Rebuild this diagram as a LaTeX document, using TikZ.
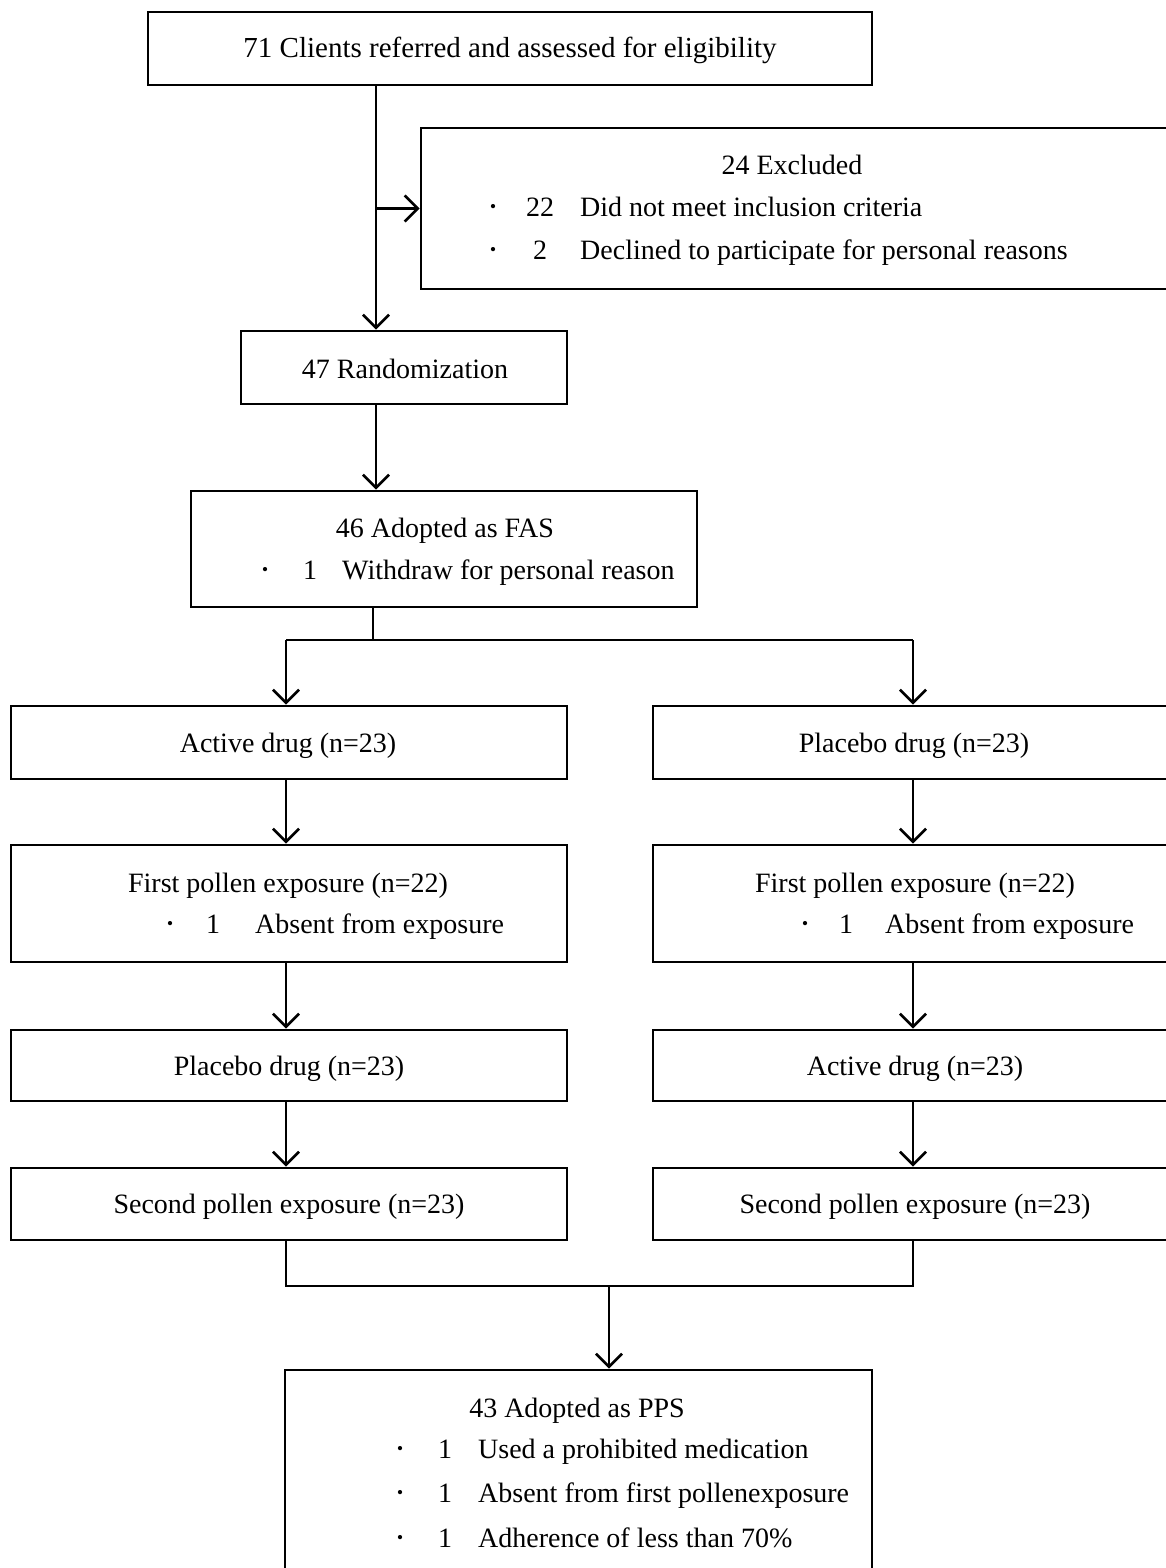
\documentclass[tikz,border=0pt]{standalone}
\usepackage{fontspec}
\setmainfont{Liberation Serif}
\usetikzlibrary{arrows.meta}
\tikzset{
  box/.style={draw=black, line width=2.8pt, inner sep=0pt, fill=white},
  txt/.style={inner sep=0pt, anchor=base, font=\fontsize{28}{32}\selectfont},
  txtw/.style={inner sep=0pt, anchor=base west, font=\fontsize{28}{32}\selectfont},
  dot/.style={inner sep=0pt, anchor=base, font=\fontsize{36}{40}\selectfont, yshift=-2pt},
  conn/.style={line width=2.7pt, draw=black},
  arr/.style={conn, -{Straight Barb[length=13pt,width=26pt,line width=2.7pt]}},
}
\begin{document}
\begin{tikzpicture}[x=1pt,y=-1pt]
\useasboundingbox (0,0) rectangle (1166,1568);
\clip (0,0) rectangle (1166,1568);
\fill[white] (0,0) rectangle (1166,1568);

% guide coordinates
\coordinate (spine) at (376,0);
\coordinate (split) at (373,640);
\coordinate (colL) at (286,0);
\coordinate (colR) at (913,0);
\coordinate (merge) at (609,1286);

% boxes
\node[box, minimum width=724pt, minimum height=73pt] (top) at (510,48.5) {};
\node[box, minimum width=751pt, minimum height=161pt] (excl) at (796.5,208.5) {};
\node[box, minimum width=326pt, minimum height=73pt] (rand) at (404,367.5) {};
\node[box, minimum width=506pt, minimum height=116pt] (fas) at (444,549) {};

\node[box, minimum width=556pt, minimum height=73pt] (actL) at (289,742.5) {};
\node[box, minimum width=556pt, minimum height=117pt] (firstL) at (289,903.5) {};
\node[box, minimum width=556pt, minimum height=71pt] (placL) at (289,1065.5) {};
\node[box, minimum width=556pt, minimum height=72pt] (secL) at (289,1204) {};

\node[box, minimum width=519pt, minimum height=73pt] (placR) at (912.5,742.5) {};
\node[box, minimum width=519pt, minimum height=117pt] (firstR) at (912.5,903.5) {};
\node[box, minimum width=519pt, minimum height=71pt] (actR) at (912.5,1065.5) {};
\node[box, minimum width=519pt, minimum height=72pt] (secR) at (912.5,1204) {};

\node[box, minimum width=587pt, minimum height=210pt] (pps) at (578.5,1475) {};

% texts
\node[txt, font=\fontsize{29}{32}\selectfont] (t1) at (510,58) {71 Clients referred and assessed for eligibility};

\node[txt] (t2) at (792,174) {24 Excluded};
\node[dot] (t2b1) at (493,216) {·};
\node[txt] (t2n1) at (540,216) {22};
\node[txtw] (t2l1) at (580,216) {Did not meet inclusion criteria};
\node[dot] (t2b2) at (493,259) {·};
\node[txt] (t2n2) at (540,259) {2};
\node[txtw] (t2l2) at (580,259) {Declined to participate for personal reasons};

\node[txt] (t3) at (405,378) {47 Randomization};

\node[txt] (t4) at (445,537) {46 Adopted as FAS};
\node[dot] (t4b) at (265,579) {·};
\node[txt] (t4n) at (310,579) {1};
\node[txtw] (t4l) at (342,579) {Withdraw for personal reason};

\node[txt] (t5) at (288,752) {Active drug (n=23)};
\node[txt] (t6) at (288,892) {First pollen exposure (n=22)};
\node[dot] (t6b) at (170,933) {·};
\node[txt] (t6n) at (213,933) {1};
\node[txtw] (t6l) at (255,933) {Absent from exposure};
\node[txt] (t7) at (289,1075) {Placebo drug (n=23)};
\node[txt] (t8) at (289,1213) {Second pollen exposure (n=23)};

\node[txt] (t9) at (914,752) {Placebo drug (n=23)};
\node[txt] (t10) at (915,892) {First pollen exposure (n=22)};
\node[dot] (t10b) at (805,933) {·};
\node[txt] (t10n) at (846,933) {1};
\node[txtw] (t10l) at (885,933) {Absent from exposure};
\node[txt] (t11) at (915,1075) {Active drug (n=23)};
\node[txt] (t12) at (915,1213) {Second pollen exposure (n=23)};

\node[txt] (t13) at (577,1417) {43 Adopted as PPS};
\node[dot] (t13b1) at (400,1458) {·};
\node[txt] (t13n1) at (445,1458) {1};
\node[txtw] (t13l1) at (478,1458) {Used a prohibited medication};
\node[dot] (t13b2) at (400,1502) {·};
\node[txt] (t13n2) at (445,1502) {1};
\node[txtw] (t13l2) at (478,1502) {Absent from first pollenexposure};
\node[dot] (t13b3) at (400,1547) {·};
\node[txt] (t13n3) at (445,1547) {1};
\node[txtw] (t13l3) at (478,1547) {Adherence of less than 70\%};

% connectors
\draw[arr] (top.south -| spine) -- (rand.north -| spine);
\draw[arr] (spine |- excl.west) -- (excl.west);
\draw[arr] (rand.south -| spine) -- (fas.north -| spine);
\draw[conn] (fas.south -| split) -- (split);
\draw[conn] (split -| colL) -- (split -| colR);
\draw[arr] (split -| colL) -- (actL.north -| colL);
\draw[arr] (split -| colR) -- (placR.north -| colR);

\draw[arr] (actL.south -| colL) -- (firstL.north -| colL);
\draw[arr] (firstL.south -| colL) -- (placL.north -| colL);
\draw[arr] (placL.south -| colL) -- (secL.north -| colL);

\draw[arr] (placR.south -| colR) -- (firstR.north -| colR);
\draw[arr] (firstR.south -| colR) -- (actR.north -| colR);
\draw[arr] (actR.south -| colR) -- (secR.north -| colR);

\draw[conn] (secL.south -| colL) -- (merge -| colL) -- (merge -| colR) -- (secR.south -| colR);
\draw[arr] (merge) -- (pps.north -| merge);
\end{tikzpicture}
\end{document}
